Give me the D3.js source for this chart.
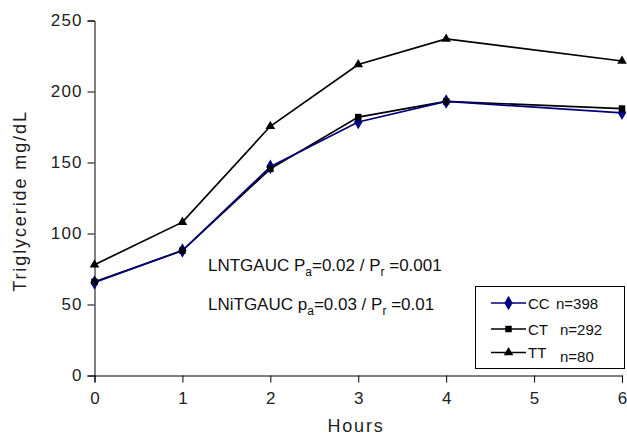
<!DOCTYPE html>
<html><head><meta charset="utf-8">
<script src="https://cdn.jsdelivr.net/npm/d3@7"></script>
<style>body{margin:0;background:#fff;}svg{display:block;font-family:"Liberation Sans",Arial,sans-serif;}</style>
</head><body>
<svg id="c" width="627" height="437"></svg>
<script>
const hours = [0, 1, 2, 3, 4, 6];
const ccValues = [65.5, 88, 147, 178.5, 193, 185];
const ctValues = [66, 88, 145.5, 182, 193, 188];
const ttValues = [78, 108, 175.5, 219, 237, 221.5];
const xTicks = [0, 1, 2, 3, 4, 5, 6];
const yTicks = [0, 50, 100, 150, 200, 250];
const seriesNames = ["CC", "CT", "TT"];
const seriesN = ["n=398", "n=292", "n=80"];

const svg = d3.select("#c");
const x = d3.scaleLinear().domain([0, 6]).range([94.5, 622]);
const y = d3.scaleLinear().domain([0, 250]).range([375.5, 20.5]);

const series = [
  {name: seriesNames[0], n: seriesN[0], vals: ccValues, color: "#00007f", sym: d3.symbolDiamond, size: 60},
  {name: seriesNames[1], n: seriesN[1], vals: ctValues, color: "#000", sym: d3.symbolSquare, size: 42},
  {name: seriesNames[2], n: seriesN[2], vals: ttValues, color: "#000", sym: d3.symbolTriangle, size: 40}
];

// axes
const xAxis = svg.append("g").attr("transform", "translate(0,375.5)")
  .call(d3.axisBottom(x).tickValues(xTicks).tickSize(7).tickPadding(9).tickFormat(d3.format("d")));
const yAxis = svg.append("g").attr("transform", "translate(94.5,0)")
  .call(d3.axisLeft(y).tickValues(yTicks).tickSize(7).tickPadding(5).tickFormat(d3.format("d")));
[xAxis, yAxis].forEach(a => {
  a.select(".domain").attr("stroke", "#000").attr("stroke-width", 1);
  a.selectAll(".tick line").attr("stroke", "#000");
  a.selectAll(".tick text").attr("font-size", 17).attr("fill", "#222")
    .attr("letter-spacing", "1.1px").attr("font-family", "Liberation Sans, Arial, sans-serif");
});
xAxis.selectAll(".tick text").attr("dx", "0.55px");

// lines (draw in order TT, CT, CC so CC is on top)
const line = d3.line().x((d, i) => x(hours[i])).y(d => y(d));
[series[2], series[1], series[0]].forEach(s => {
  svg.append("path").datum(s.vals).attr("d", line)
    .attr("fill", "none").attr("stroke", s.color).attr("stroke-width", 1.7);
});
[series[0], series[1], series[2]].forEach(s => {
  svg.append("g").selectAll("path").data(s.vals).join("path")
    .attr("d", d3.symbol().type(s.sym).size(s.size))
    .attr("transform", (d, i) => `translate(${x(hours[i])},${y(d)})`)
    .attr("fill", s.color);
});

// axis titles
svg.append("text").attr("x", 356).attr("y", 432).attr("text-anchor", "middle")
  .attr("font-size", 18).attr("letter-spacing", "1.8px").attr("fill", "#222").text("Hours");
svg.append("text").attr("transform", "translate(25.5,201) rotate(-90)").attr("text-anchor", "middle")
  .attr("font-size", 18).attr("letter-spacing", "1.9px").attr("fill", "#222").text("Triglyceride mg/dL");

// annotations
function annot(yy, parts) {
  const t = svg.append("text").attr("x", 208).attr("y", yy).attr("font-size", 17).attr("fill", "#111");
  parts.forEach(p => {
    const ts = t.append("tspan").text(p[0]);
    if (p[1] === "sub") ts.attr("font-size", 12).attr("dy", 4.5);
    else if (p[1] === "up") ts.attr("dy", -4.5);
  });
}
annot(271, [["LNTGAUC P"], ["a", "sub"], ["=0.02 / P", "up"], ["r", "sub"], [" =0.001", "up"]]);
annot(310, [["LNiTGAUC p"], ["a", "sub"], ["=0.03 / P", "up"], ["r", "sub"], [" =0.01", "up"]]);

// legend
const lg = svg.append("g");
lg.append("rect").attr("x", 475.5).attr("y", 286.5).attr("width", 149).attr("height", 82)
  .attr("fill", "#fff").attr("stroke", "#000").attr("stroke-width", 1);
const rowsY = [303, 329, 352.5];
series.forEach((s, i) => {
  const ry = rowsY[i];
  lg.append("line").attr("x1", 491).attr("x2", 526).attr("y1", ry).attr("y2", ry)
    .attr("stroke", s.color).attr("stroke-width", 1.7);
  lg.append("path").attr("d", d3.symbol().type(s.sym).size(s.size))
    .attr("transform", `translate(508.5,${ry})`).attr("fill", s.color);
  lg.append("text").attr("x", 528).attr("y", ry + 5.5).attr("font-size", 15).attr("fill", "#111").text(s.name);
  lg.append("text").attr("x", i === 0 ? 556 : 560).attr("y", ry + 5.5 + (i === 2 ? 4 : 0))
    .attr("font-size", 15).attr("fill", "#111").text(s.n);
});
</script>
</body></html>
